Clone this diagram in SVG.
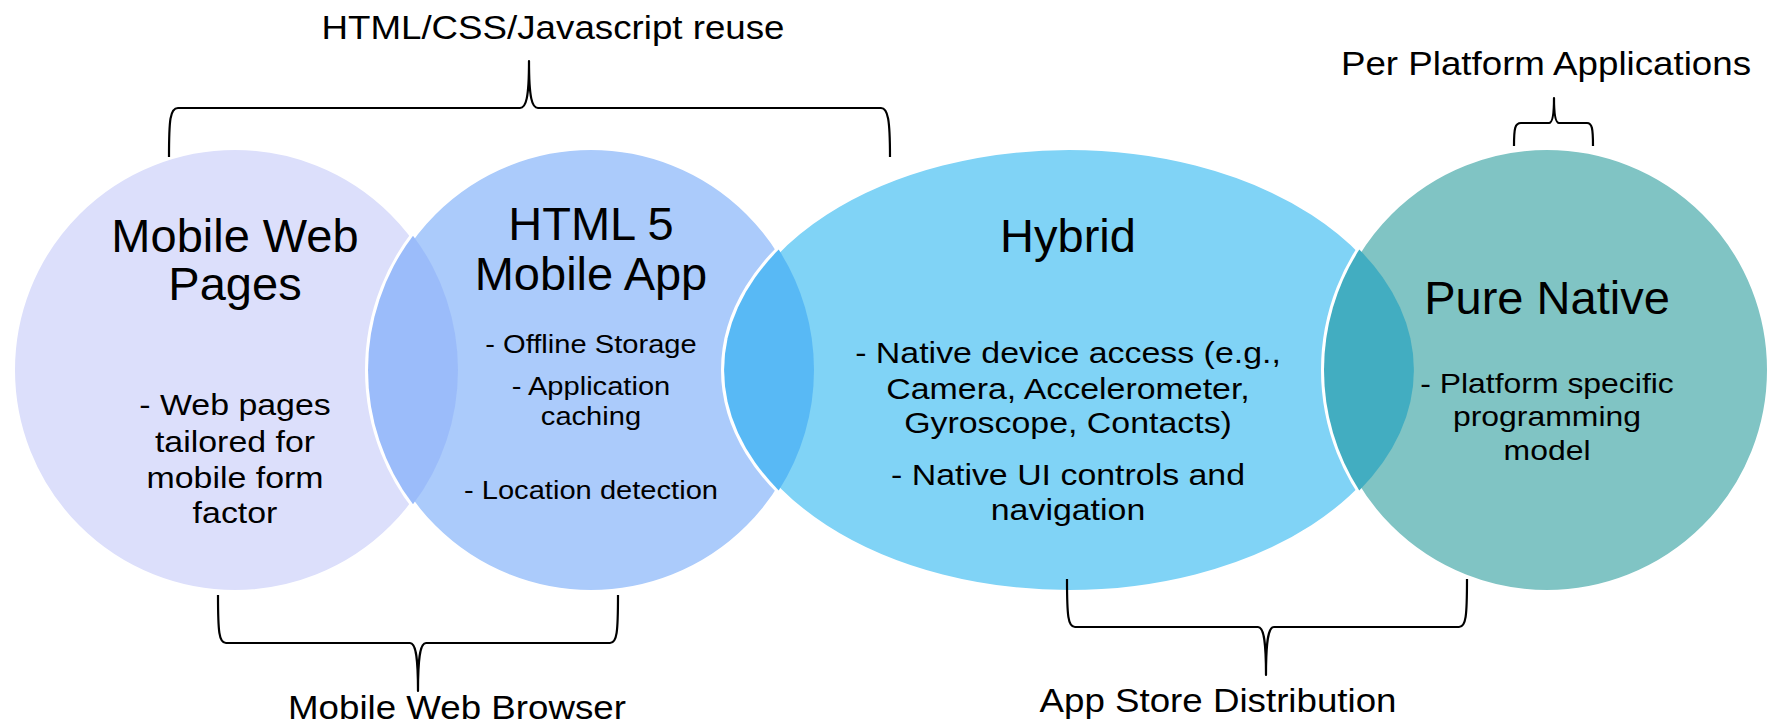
<svg xmlns="http://www.w3.org/2000/svg" width="1771" height="726" viewBox="0 0 1771 726">
<style>
text{font-family:"Liberation Sans",Arial,sans-serif;fill:#000;text-anchor:middle}
.t{font-size:47px}
.b34{font-size:30px}
.b32{font-size:28.5px}
.b29{font-size:26px}
.lab{font-size:32.5px}
.shape{stroke:#fff;stroke-width:6}
.brace{fill:none;stroke:#000;stroke-width:2.2;stroke-linejoin:round}
</style>
<rect width="1771" height="726" fill="#fff"/>
<g id="mobile-web-pages">
<circle class="shape" cx="235" cy="370" r="223" fill="#dcdffb"/>
</g>
<g id="html5-mobile-app">
<circle class="shape" cx="591" cy="370" r="223" fill="#abcbfb"/>
<path d="M413,235.7 A223,223 0 0,1 413,504.3 A223,223 0 0,1 413,235.7Z" fill="#9bbcfa"/>
</g>
<g id="hybrid">
<ellipse class="shape" cx="1069" cy="370" rx="345" ry="223" fill="#80d3f6"/>
<path d="M778.7,249.6 A223,223 0 0,1 778.7,490.4 A345,223 0 0,1 778.7,249.6Z" fill="#58b9f5"/>
</g>
<g id="pure-native">
<circle class="shape" cx="1547" cy="370" r="223" fill="#80c4c4"/>
<path d="M1359.3,249.6 A345,223 0 0,1 1359.3,490.4 A223,223 0 0,1 1359.3,249.6Z" fill="#42adc1"/>
</g>
<g id="texts-mobile-web-pages">
<text class="t" x="235" y="252">Mobile Web</text>
<text class="t" x="235" y="300">Pages</text>
<g transform="translate(235,0) scale(1.13,1)">
<text class="b34" x="0" y="415">- Web pages</text>
<text class="b34" x="0" y="452">tailored for</text>
<text class="b34" x="0" y="488">mobile form</text>
<text class="b34" x="0" y="523">factor</text>
</g>
</g>
<g id="texts-html5">
<text class="t" x="591" y="240">HTML 5</text>
<text class="t" x="591" y="290">Mobile App</text>
<g transform="translate(591,0) scale(1.12,1)">
<text class="b29" x="0" y="353">- Offline Storage</text>
<text class="b29" x="0" y="395">- Application</text>
<text class="b29" x="0" y="425">caching</text>
<text class="b29" x="0" y="499">- Location detection</text>
</g>
</g>
<g id="texts-hybrid">
<text class="t" x="1068" y="252">Hybrid</text>
<g transform="translate(1068,0) scale(1.13,1)">
<text class="b34" x="0" y="363">- Native device access (e.g.,</text>
<text class="b34" x="0" y="399">Camera, Accelerometer,</text>
<text class="b34" x="0" y="433">Gyroscope, Contacts)</text>
<text class="b34" x="0" y="485">- Native UI controls and</text>
<text class="b34" x="0" y="520">navigation</text>
</g>
</g>
<g id="texts-pure-native">
<text class="t" x="1547" y="314">Pure Native</text>
<g transform="translate(1547,0) scale(1.12,1)">
<text class="b32" x="0" y="393">- Platform specific</text>
<text class="b32" x="0" y="426">programming</text>
<text class="b32" x="0" y="460">model</text>
</g>
</g>
<g id="connectors">
<path class="brace" d="M169,157 C169,120 170,108 178,108 L520,108 C526,108 529,98 529,61 C529,98 532,108 538,108 L881,108 C888,108 890,120 890,157"/>
<path class="brace" d="M1514,146 C1514,128 1515,123 1521,123 L1549,123 C1552,123 1554,117 1554,98 C1554,117 1556,123 1559,123 L1587,123 C1592,123 1593,128 1593,146"/>
<path class="brace" d="M218,595 C218,632 219,643 226,643 L410,643 C415,643 418,653 418,691 C418,653 421,643 426,643 L610,643 C617,643 618,632 618,595"/>
<path class="brace" d="M1067,579 C1067,616 1068,627 1075,627 L1258,627 C1263,627 1266,637 1266,675 C1266,637 1269,627 1274,627 L1459,627 C1466,627 1467,616 1467,579"/>
</g>
<g id="labels">
<g transform="translate(553,0) scale(1.13,1)"><text class="lab" x="0" y="39">HTML/CSS/Javascript reuse</text></g>
<g transform="translate(1546,0) scale(1.13,1)"><text class="lab" x="0" y="75">Per Platform Applications</text></g>
<g transform="translate(457,0) scale(1.13,1)"><text class="lab" x="0" y="719">Mobile Web Browser</text></g>
<g transform="translate(1218,0) scale(1.13,1)"><text class="lab" x="0" y="712">App Store Distribution</text></g>
</g>
</svg>
